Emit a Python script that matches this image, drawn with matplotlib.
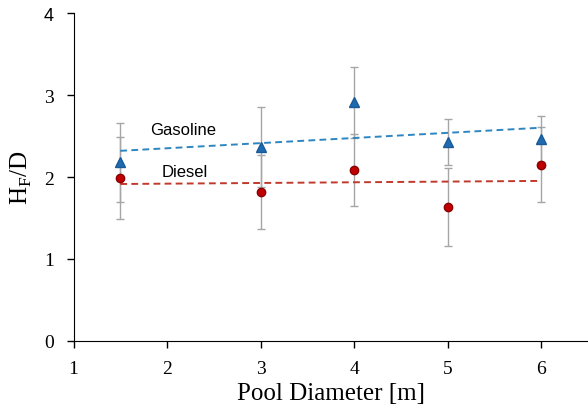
import numpy as np
import matplotlib
matplotlib.use('Agg')
from matplotlib import pyplot as plt

diameter = [1.5, 3, 4, 5, 6]
gasoline = [2.18, 2.37, 2.91, 2.43, 2.46]
gasoline_err = [0.48, 0.49, 0.43, 0.28, 0.28]
diesel = [1.99, 1.82, 2.085, 1.63, 2.15]
diesel_err = [0.50, 0.45, 0.44, 0.475, 0.46]

plt.rcParams['font.family'] = 'Liberation Serif'
plt.rcParams['mathtext.fontset'] = 'custom'
plt.rcParams['mathtext.rm'] = 'Liberation Serif'

fig = plt.figure(figsize=(5.88, 4.14), dpi=100)
ax = fig.add_axes([0.125, 0.174, 0.875, 0.792])

# error bars first so the markers sit on top
ax.errorbar(diameter, gasoline, yerr=gasoline_err, fmt='none', ecolor='#a6a6a6',
            elinewidth=1, capsize=3, capthick=1, zorder=1)
ax.errorbar(diameter, diesel, yerr=diesel_err, fmt='none', ecolor='#a6a6a6',
            elinewidth=1, capsize=3, capthick=1, zorder=1)

# linear trend lines
xs = np.array([diameter[0], diameter[-1]])
pg = np.polyfit(diameter, gasoline, 1)
pd_ = np.polyfit(diameter, diesel, 1)
ax.plot(xs, np.polyval(pg, xs), '--', color='#2e86c1', lw=1.4, dashes=(3.5, 2.2), zorder=2)
ax.plot(xs, np.polyval(pd_, xs), '--', color='#c0392b', lw=1.4, dashes=(3.5, 2.2), zorder=2)

ax.plot(diameter, gasoline, '^', color='#1f6bb0', mec='#1a5a96', ms=6.5, zorder=3)
ax.plot(diameter, diesel, 'o', color='#c00000', mec='#8b0000', ms=6, zorder=3)

ax.text(2.167, 2.524, 'Gasoline', family='Liberation Sans', fontsize=12, ha='center', va='baseline')
ax.text(2.19, 2.012, 'Diesel', family='Liberation Sans', fontsize=12, ha='center', va='baseline')

ax.set_xlim(1, 6.5)
ax.set_ylim(0, 4)
ax.set_xticks([1, 2, 3, 4, 5, 6])
ax.set_yticks([0, 1, 2, 3, 4])
ax.spines['top'].set_visible(False)
ax.spines['right'].set_visible(False)
ax.tick_params(axis='both', direction='out', length=5, labelsize=14, width=1)
ax.tick_params(axis='x', pad=9)
ax.tick_params(axis='y', pad=9)
# the top tick label is drawn in a sans font in the original
top = ax.get_yticklabels()[-1]
top.set_fontfamily('Liberation Sans')
top.set_fontsize(13)
ax.set_xlabel('Pool Diameter [m]', fontsize=18, labelpad=3)
ax.set_ylabel(r'H$_\mathregular{F}$/D', fontsize=18, labelpad=7)

fig.savefig('out.png', dpi=100)
